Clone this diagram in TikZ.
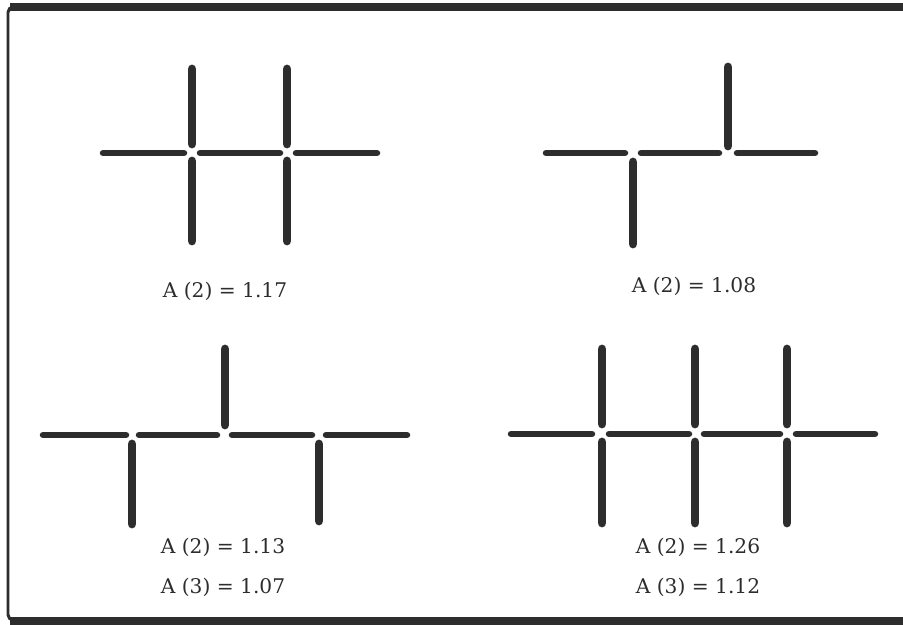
\documentclass[tikz,border=0pt]{standalone}
\usepackage{fontspec}
\setmainfont{DejaVu Serif}
\definecolor{ink}{RGB}{45,45,45}

\begin{document}
\begin{tikzpicture}[x=0.02cm, y=-0.02cm, font=\fontsize{11.5}{13}\selectfont,
  vbar/.style={line width=5pt, line cap=round, draw=ink},
  hbar/.style={line width=3.7pt, line cap=round, draw=ink},
  rim/.style={draw=ink, line width=#1},
  lbl/.style={inner sep=0pt, anchor=base, text=ink}]
\useasboundingbox (0,0) rectangle (903,625);
% frame
\draw[rim=1.7pt, rounded corners=3pt] (903,7) -- (8,7) -- (8,620) -- (903,620);
\draw[rim=4.8pt] (10,7) -- (903,7);
\draw[rim=5.1pt] (10,621) -- (903,621);
% top left: two crossings
\draw[hbar] (103,153) -- (184,153);
\draw[hbar] (200,153) -- (280,153);
\draw[hbar] (296,153) -- (377,153);
\foreach \x in {192,287} {
  \draw[vbar] (\x,69) -- (\x,144);
  \draw[vbar] (\x,161) -- (\x,241);
}
\node[lbl] (a2) at (225,297) {A (2) = 1.17};
% top right: one down, one up
\draw[hbar] (546,153) -- (625,153);
\draw[hbar] (641,153) -- (719,153);
\draw[hbar] (737,153) -- (815,153);
\draw[vbar] (633,162) -- (633,244);
\draw[vbar] (728,67) -- (728,146);
\node[lbl] (b2) at (694,292) {A (2) = 1.08};
% bottom left: down, up, down
\draw[hbar] (43,435) -- (126,435);
\draw[hbar] (139,435) -- (217,435);
\draw[hbar] (232,435) -- (312,435);
\draw[hbar] (326,435) -- (407,435);
\draw[vbar] (132,444) -- (132,524);
\draw[vbar] (225,349) -- (225,425);
\draw[vbar] (319,444) -- (319,521);
\node[lbl] (c2) at (223,553) {A (2) = 1.13};
\node[lbl] (c3) at (223,593) {A (3) = 1.07};
% bottom right: three crossings
\draw[hbar] (511,434) -- (592,434);
\draw[hbar] (609,434) -- (689,434);
\draw[hbar] (704,434) -- (780,434);
\draw[hbar] (796,434) -- (875,434);
\foreach \x in {602,695,787} {
  \draw[vbar] (\x,349) -- (\x,424);
  \draw[vbar] (\x,442) -- (\x,523);
}
\node[lbl] (d2) at (698,553) {A (2) = 1.26};
\node[lbl] (d3) at (698,593) {A (3) = 1.12};
\end{tikzpicture}
\end{document}
